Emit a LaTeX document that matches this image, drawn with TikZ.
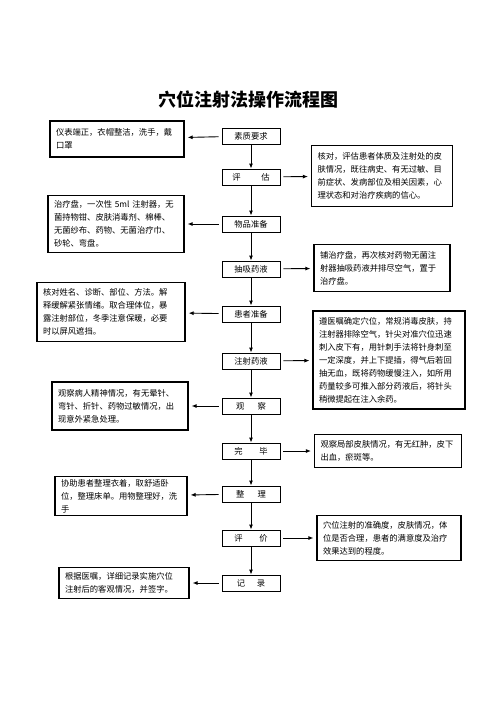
\documentclass[tikz,border=0pt]{standalone}
\usepackage{fontspec}
\newfontfamily\cjk{Noto Sans CJK SC}
\usetikzlibrary{arrows.meta}
\tikzset{
  stepbox/.style={draw, line width=0.9pt, minimum width=58pt, minimum height=16pt, inner sep=0pt, font=\cjk\fontsize{8.3}{10}\selectfont},
  notebox/.style={draw, line width=1.2pt, inner xsep=6pt, inner ysep=3pt, align=left, font=\cjk\fontsize{8.3}{13}\selectfont},
  arr/.style={line width=0.9pt, -{Latex[length=5pt,width=4pt]}},
  side/.style={arr, shorten <=3pt, shorten >=3pt}
}
\begin{document}
\begin{tikzpicture}[x=1pt,y=-1pt]
\useasboundingbox (0,0) rectangle (496,702);

\node[font=\cjk\bfseries\fontsize{18}{20}\selectfont] (title) at (248,100) {穴位注射法操作流程图};

% main steps
\node[stepbox] (suzhi)   at (251,136) {素质要求};
\node[stepbox] (pinggu)  at (251,177) {评\hspace{2.5em}估};
\node[stepbox] (wupin)   at (251,224) {物品准备};
\node[stepbox] (chouxi)  at (251,269) {抽吸药液};
\node[stepbox] (huanzhe) at (251,314) {患者准备};
\node[stepbox] (zhushe)  at (251,361) {注射药液};
\node[stepbox] (guancha) at (251,406) {观\hspace{1.6em}察};
\node[stepbox] (wanbi)   at (251,451) {完\hspace{2em}毕};
\node[stepbox] (zhengli) at (251,494) {整\hspace{1.6em}理};
\node[stepbox] (pingjia) at (251,538) {评\hspace{2em}价};
\node[stepbox] (jilu)    at (251,583) {记\hspace{1.4em}录};

% left notes
\node[notebox, text width=122pt, minimum height=36pt] (l1) at (117,139)
  {仪表端正，衣帽整洁，洗手，戴\\口罩};
\node[notebox, text width=124pt, minimum height=57pt] (l2) at (116,224)
  {治疗盘，一次性 5ml 注射器，无\\菌持物钳、皮肤消毒剂、棉棒、\\无菌纱布、药物、无菌治疗巾、\\砂轮、弯盘。};
\node[notebox, text width=136pt, minimum height=59pt] (l3) at (111,312)
  {核对姓名、诊断、部位、方法。解\\释缓解紧张情绪。取合理体位，暴\\露注射部位，冬季注意保暖，必要\\时以屏风遮挡。};
\node[notebox, text width=124pt, minimum height=48pt] (l4) at (120,406)
  {观察病人精神情况，有无晕针、\\弯针、折针、药物过敏情况，出\\现意外紧急处理。};
\node[notebox, text width=120pt, minimum height=39pt] (l5) at (121,496)
  {协助患者整理衣着，取舒适卧\\位，整理床单。用物整理好，洗\\手};
\node[notebox, text width=118pt, minimum height=31pt] (l6) at (124,583)
  {根据医嘱，详细记录实施穴位\\注射后的客观情况，并签字。};

% right notes
\node[notebox, text width=129pt, minimum height=61pt] (r1) at (382,176)
  {核对，评估患者体质及注射处的皮\\肤情况，既往病史、有无过敏、目\\前症状、发病部位及相关因素，心\\理状态和对治疗疾病的信心。};
\node[notebox, text width=124pt, minimum height=47pt] (r2) at (382,268)
  {铺治疗盘，再次核对药物无菌注\\射器抽吸药液并排尽空气，置于\\治疗盘。};
\node[notebox, text width=140pt, minimum height=98pt] (r3) at (389,360)
  {遵医嘱确定穴位，常规消毒皮肤，持\\注射器排除空气，针尖对准穴位迅速\\刺入皮下有，用针刺手法将针身刺至\\一定深度，并上下提插，得气后若回\\抽无血，既将药物缓慢注入，如所用\\药量较多可推入部分药液后，将针头\\稍微提起在注入余药。};
\node[notebox, text width=135pt, minimum height=33pt] (r4) at (388,451)
  {观察局部皮肤情况，有无红肿，皮下\\出血，瘀斑等。};
\node[notebox, text width=132pt, minimum height=45pt] (r5) at (389,538)
  {穴位注射的准确度，皮肤情况，体\\位是否合理，患者的满意度及治疗\\效果达到的程度。};

% flow
\draw[arr] (suzhi) -- (pinggu);
\draw[arr] (pinggu) -- (wupin);
\draw[arr] (wupin) -- (chouxi);
\draw[arr] (chouxi) -- (huanzhe);
\draw[arr] (huanzhe) -- (zhushe);
\draw[arr] (zhushe) -- (guancha);
\draw[arr] (guancha) -- (wanbi);
\draw[arr] (wanbi) -- (zhengli);
\draw[arr] (zhengli) -- (pingjia);
\draw[arr] (pingjia) -- (jilu);

% to the notes
\draw[side] (suzhi) -- (l1);
\draw[side] (pinggu) -- (r1);
\draw[side] (wupin) -- (l2);
\draw[side] (chouxi) -- (r2);
\draw[side] (huanzhe) -- (l3);
\draw[side] (zhushe) -- (r3);
\draw[side] (guancha) -- (l4);
\draw[side] (wanbi) -- (r4);
\draw[side] (zhengli) -- (l5);
\draw[side] (pingjia) -- (r5);
\draw[side] (jilu) -- (l6);
\end{tikzpicture}
\end{document}
